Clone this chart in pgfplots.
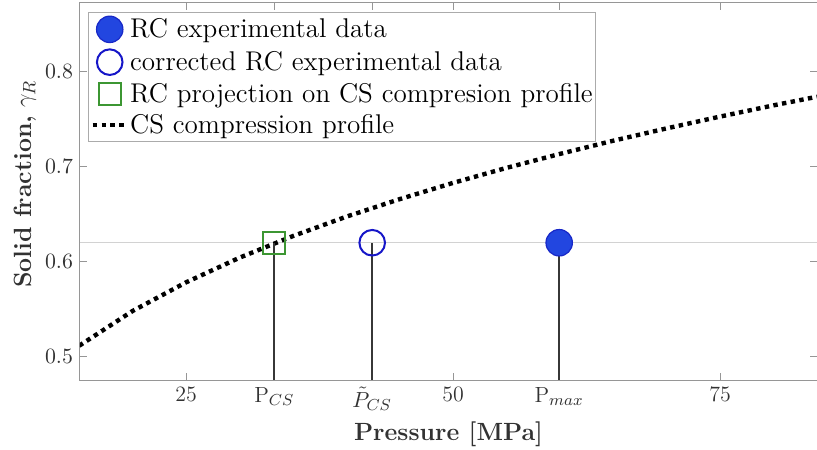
\documentclass[border=0pt]{standalone}
\usepackage{pgfplots}
\pgfplotsset{compat=1.18}

\definecolor{axgray}{RGB}{150,150,150}
\definecolor{txtgray}{RGB}{50,50,50}
\definecolor{fillblue}{RGB}{34,70,224}
\definecolor{edgeblue}{RGB}{24,40,200}
\definecolor{openblue}{RGB}{22,22,200}
\definecolor{sqgreen}{RGB}{60,150,50}
\definecolor{refgray}{RGB}{210,210,210}
\definecolor{stemgray}{RGB}{55,55,55}

% CS compression profile, solid fraction vs pressure [MPa]
\pgfplotstableread{
P     gamma
15    0.5116
20    0.5482
25    0.5783
30    0.6042
35    0.6270
40    0.6474
45    0.6659
50    0.6830
55    0.6988
60    0.7135
65    0.7274
70    0.7404
75    0.7528
80    0.7646
84.08 0.7737
}\csprofile

\begin{document}
\begin{tikzpicture}
\useasboundingbox (-40bp,-35bp) rectangle (368.5bp,190bp);
\begin{axis}[
  scale only axis, width=368.5bp, height=188.5bp,
  xmin=15.07, xmax=84.08, ymin=0.4755, ymax=0.8724,
  axis line style={draw=axgray, line width=0.5bp},
  tick style={draw=axgray, line width=0.5bp},
  major tick length=3.5bp,
  tick align=inside,
  xtick={25,33.26,42.43,50,59.94,75},
  xticklabels={25,{P$_{CS}$},{$\tilde{P}_{CS}$},50,{P$_{max}$},75},
  ytick={0.5,0.6,0.7,0.8},
  tick label style={font=\fontsize{11}{13}\selectfont, text=txtgray},
  xlabel={\textbf{Pressure [MPa]}},
  ylabel={\textbf{Solid fraction,} $\gamma_R$},
  every axis x label/.style={at={(axis description cs:0.5,-0.145)}, anchor=center,
    font=\fontsize{12.5}{15}\selectfont, text=txtgray},
  every axis y label/.style={at={(axis description cs:-0.0746,0.52)}, anchor=center, rotate=90,
    font=\fontsize{12.5}{15}\selectfont, text=txtgray},
  legend cell align=left,
  legend image code/.code={\draw[mark repeat=2,mark phase=2,#1]
    plot coordinates {(0bp,0bp) (8.5bp,0bp) (17bp,0bp)};},
  legend style={at={(0.0109,0.976)}, anchor=north west,
    draw=axgray!80, line width=0.5bp, fill=white,
    font=\fontsize{13.6}{16}\selectfont,
    inner xsep=1bp, inner ysep=1.8bp, row sep=3.4bp,
    nodes={inner sep=0.6bp}},
]
\addplot[refgray, line width=0.6bp, forget plot] coordinates {(15.07,0.62) (84.08,0.62)};

\addplot[only marks, mark=*, mark size=6.6bp,
  mark options={fill=fillblue, draw=edgeblue, line width=0.6bp}]
  coordinates {(59.94,0.62)};
\addlegendentry{RC experimental data}

\addplot[only marks, mark=o, mark size=6.4bp,
  mark options={draw=openblue, line width=1bp}]
  coordinates {(42.43,0.62)};
\addlegendentry{corrected RC experimental data}

\addplot[only marks, mark=square, mark size=5.5bp,
  mark options={draw=sqgreen, line width=1bp}]
  coordinates {(33.26,0.62)};
\addlegendentry{RC projection on CS compresion profile}

\addplot[black, line width=2.2bp, dash pattern=on 2.2bp off 2.2bp, line cap=butt]
  table[x=P, y=gamma] {\csprofile};
\addlegendentry{CS compression profile}

\addplot[ycomb, stemgray, line width=0.8bp, forget plot]
  coordinates {(33.26,0.62) (42.43,0.62) (59.94,0.62)};
\end{axis}
\end{tikzpicture}
\end{document}
